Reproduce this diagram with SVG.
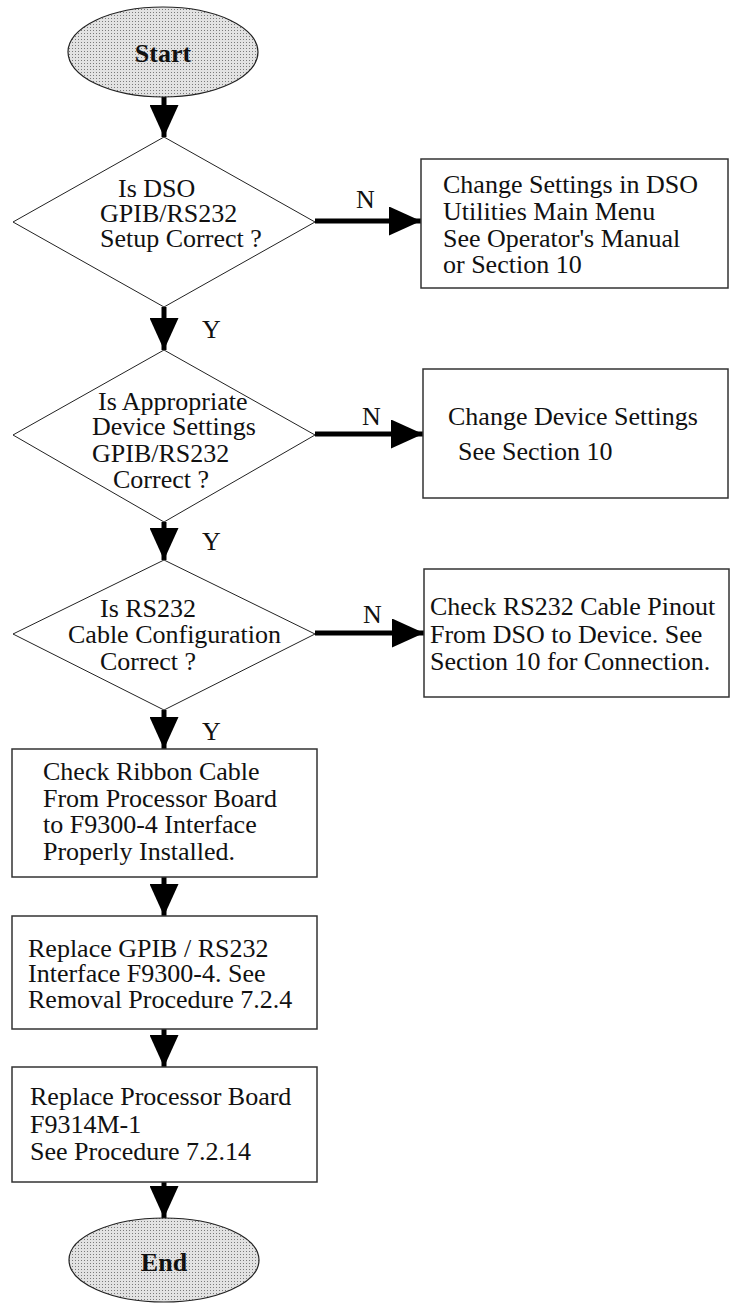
<svg xmlns="http://www.w3.org/2000/svg" width="730" height="1304" viewBox="0 0 730 1304">
<style>
.t{font-family:"Liberation Serif","Times New Roman",serif;font-size:26px;fill:#111}
.b{font-weight:bold;text-anchor:middle}
.box{fill:#fff;stroke:#333;stroke-width:1.5}
.dia{fill:#fff;stroke:#222;stroke-width:1}
.term{fill:url(#dots);stroke:#222;stroke-width:1.2}
.con{stroke:#000;stroke-width:5;fill:none;marker-end:url(#ah)}
</style>
<defs>
<pattern id="dots" width="3" height="3" patternUnits="userSpaceOnUse">
<rect width="3" height="3" fill="#e2e2e2"/>
<rect width="1" height="1" fill="#7a7a7a"/>
</pattern>
<marker id="ah" viewBox="0 0 32 29" refX="32" refY="14.5" markerWidth="32" markerHeight="29" markerUnits="userSpaceOnUse" orient="auto">
<path d="M0,0 L32,14.5 L0,29 z" fill="#000"/>
</marker>
</defs>
<rect width="730" height="1304" fill="#fff"/>
<g id="connectors">
<line class="con" x1="164" y1="96" x2="164" y2="137"/>
<line class="con" x1="164" y1="307" x2="164" y2="350"/>
<line class="con" x1="164" y1="522" x2="164" y2="560"/>
<line class="con" x1="164" y1="710" x2="164" y2="749"/>
<line class="con" x1="164" y1="877" x2="164" y2="916"/>
<line class="con" x1="164" y1="1029" x2="164" y2="1067"/>
<line class="con" x1="164" y1="1182" x2="164" y2="1218"/>
<line class="con" x1="315" y1="221" x2="421" y2="221"/>
<line class="con" x1="315" y1="434" x2="423" y2="434"/>
<line class="con" x1="315" y1="633" x2="424" y2="633"/>
<text class="t" x="202" y="338">Y</text>
<text class="t" x="202" y="550">Y</text>
<text class="t" x="202" y="740">Y</text>
<text class="t" x="356" y="208">N</text>
<text class="t" x="362" y="425">N</text>
<text class="t" x="363" y="623">N</text>
</g>
<g id="start">
<ellipse class="term" cx="163" cy="52" rx="95" ry="45"/>
<text class="t b" x="163" y="62">Start</text>
</g>
<g id="d1">
<polygon class="dia" points="164,137 315,222 164,307 13,222"/>
<text class="t" x="118" y="197">Is DSO</text>
<text class="t" x="100" y="222">GPIB/RS232</text>
<text class="t" x="100" y="247">Setup Correct ?</text>
</g>
<g id="box1">
<rect class="box" x="421" y="159" width="307" height="129"/>
<text class="t" x="443" y="193">Change Settings in DSO</text>
<text class="t" x="443" y="220">Utilities Main Menu</text>
<text class="t" x="443" y="247">See Operator's Manual</text>
<text class="t" x="443" y="273">or Section 10</text>
</g>
<g id="d2">
<polygon class="dia" points="164,350 315,435 164,522 13,435"/>
<text class="t" x="98" y="410">Is Appropriate</text>
<text class="t" x="92" y="435">Device Settings</text>
<text class="t" x="92" y="462">GPIB/RS232</text>
<text class="t" x="113" y="488">Correct ?</text>
</g>
<g id="box2">
<rect class="box" x="423" y="369" width="305" height="129"/>
<text class="t" x="448" y="425">Change Device Settings</text>
<text class="t" x="458" y="460">See Section 10</text>
</g>
<g id="d3">
<polygon class="dia" points="164,560 315,634 164,710 13,634"/>
<text class="t" x="100" y="617">Is RS232</text>
<text class="t" x="68" y="643">Cable Configuration</text>
<text class="t" x="100" y="670">Correct ?</text>
</g>
<g id="box3">
<rect class="box" x="424" y="569" width="305" height="128"/>
<text class="t" x="430" y="615">Check RS232 Cable Pinout</text>
<text class="t" x="430" y="643">From DSO to Device. See</text>
<text class="t" x="430" y="670">Section 10 for Connection.</text>
</g>
<g id="box4">
<rect class="box" x="12" y="749" width="305" height="128"/>
<text class="t" x="43" y="780">Check Ribbon Cable</text>
<text class="t" x="43" y="807">From Processor Board</text>
<text class="t" x="43" y="833">to F9300-4 Interface</text>
<text class="t" x="43" y="860">Properly Installed.</text>
</g>
<g id="box5">
<rect class="box" x="12" y="916" width="305" height="113"/>
<text class="t" x="28" y="957">Replace GPIB / RS232</text>
<text class="t" x="28" y="982">Interface F9300-4. See</text>
<text class="t" x="28" y="1008">Removal Procedure 7.2.4</text>
</g>
<g id="box6">
<rect class="box" x="12" y="1067" width="305" height="115"/>
<text class="t" x="30" y="1105">Replace Processor Board</text>
<text class="t" x="30" y="1133">F9314M-1</text>
<text class="t" x="30" y="1160">See Procedure 7.2.14</text>
</g>
<g id="end">
<ellipse class="term" cx="164" cy="1260" rx="95" ry="42"/>
<text class="t b" x="164" y="1271">End</text>
</g>
</svg>
